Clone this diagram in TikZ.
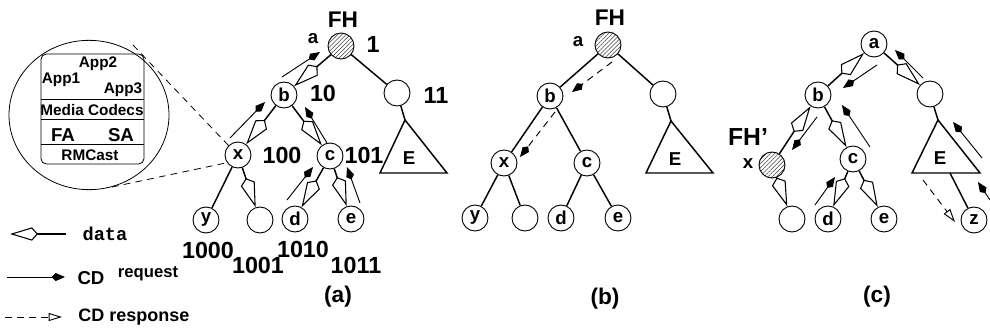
\documentclass[tikz,border=0pt]{standalone}
\usepackage{fontspec}
\setmainfont{Liberation Sans}
\setmonofont{Liberation Mono}
\usetikzlibrary{arrows.meta,patterns.meta}
\newcommand\myfs[1]{\fontsize{#1}{#1}\selectfont\bfseries}
\begin{document}
\begin{tikzpicture}[x=0.75pt,y=-0.75pt,
  tn/.style={circle,draw,line width=0.7pt,minimum size=19.5pt,inner sep=0pt,font=\myfs{14}},
  hat/.style={tn,pattern={Lines[angle=45,distance=2.2pt,line width=0.4pt]},pattern color=darkgray},
  lab/.style={inner sep=0pt,font=\myfs{17.5}},
  slab/.style={inner sep=0pt,font=\myfs{14}},
  mlab/.style={inner sep=0pt,font=\myfs{11.5}},
  captxt/.style={inner sep=0pt,font=\myfs{17}},
  edge/.style={line width=1.1pt},
  data/.style={edge,-{Kite[open,length=23pt,width=11pt,inset=4.5pt,line width=0.8pt]}},
  req/.style={line width=0.7pt,-{Kite[length=10pt,width=6pt,inset=3pt]}},
  resp/.style={line width=0.7pt,dash pattern=on 5pt off 4pt,-{Triangle[open,length=10pt,width=6pt,line width=0.7pt]}},
  respf/.style={line width=0.7pt,dash pattern=on 5pt off 4pt,-{Kite[length=10pt,width=6pt,inset=3pt]}},
  zoomln/.style={line width=0.6pt,dash pattern=on 5pt off 4pt}
]
\useasboundingbox (0,0) rectangle (990,335);

% ---------------- magnifier ----------------
\draw[line width=0.6pt] (89,115) ellipse [x radius=60pt, y radius=56pt];
\draw[line width=0.6pt,rounded corners=4pt] (41,54) rectangle (144,164);
\draw[line width=0.6pt] (41,99) -- (144,99) (41,119) -- (144,119) (41,144) -- (144,144);
\node[mlab] (app2) at (98,64) {App2};
\node[mlab] (app1) at (61,80) {App1};
\node[mlab] (app3) at (123,90) {App3};
\node[mlab] (media) at (92,110) {Media Codecs};
\node[inner sep=0pt,font=\myfs{14}] (fa) at (63,135) {FA};
\node[inner sep=0pt,font=\myfs{14}] (sa) at (121,135) {SA};
\node[mlab] (rmc) at (90,155) {RMCast};

% ---------------- panel (a) ----------------
\node[hat] (a1) at (341,46) {};
\node[inner sep=0pt,font=\myfs{17}] (fh1) at (343,20) {FH};
\node[slab] (la1) at (313,39) {a};
\node[lab] (l1) at (373,44) {1};
\node[tn] (b1) at (284,95) {b};
\node[lab] (l10) at (323,93) {10};
\node[tn] (r1) at (397,93) {};
\node[lab] (l11) at (436,95) {11};
\coordinate (t1a) at (405,120);
\coordinate (t1l) at (380,173);
\coordinate (t1r) at (447,173);
\node[slab] (E1) at (409,158) {E};
\node[tn] (x1) at (238,155) {x};
\node[lab] (l100) at (282,155) {100};
\node[tn] (c1) at (330,156) {c};
\node[lab] (l101) at (364,155) {101};
\node[tn] (y1) at (206,220) {y};
\node[tn] (n1) at (260,220) {};
\node[tn] (d1) at (295,219) {d};
\node[tn] (e1) at (351,219) {e};
\node[lab] (l1000) at (208,250) {1000};
\node[lab] (l1001) at (258,265) {1001};
\node[lab] (l1010) at (303,249) {1010};
\node[lab] (l1011) at (356,265) {1011};
\node[captxt] (capa) at (338,297) {(a)};

\draw[data] (a1) -- (b1);
\draw[edge] (a1) -- (r1);
\draw[edge] (r1) -- (t1a);
\draw[edge] (t1a) -- (t1l) -- (t1r) -- cycle;
\draw[data] (b1) -- (x1);
\draw[data] (b1) -- (c1);
\draw[edge] (x1) -- (y1);
\draw[data] (x1) -- (n1);
\draw[data] (c1) -- (d1);
\draw[data] (c1) -- (e1);

\coordinate (q1s) at (282,77);  \coordinate (q1e) at (320,52);
\coordinate (q2s) at (230,138); \coordinate (q2e) at (265,102);
\coordinate (q3s) at (327,143); \coordinate (q3e) at (305,107);
\coordinate (q4s) at (287,200); \coordinate (q4e) at (313,167);
\coordinate (q5s) at (360,203); \coordinate (q5e) at (347,167);
\draw[req] (q1s) -- (q1e);
\draw[req] (q2s) -- (q2e);
\draw[req] (q3s) -- (q3e);
\draw[req] (q4s) -- (q4e);
\draw[req] (q5s) -- (q5e);

\coordinate (m1) at (133,45);
\coordinate (m2) at (112,187);
\draw[zoomln] (m1) -- (x1.135);
\draw[zoomln] (m2) -- (x1.215);

% ---------------- panel (b) ----------------
\node[hat] (a2) at (608,45) {};
\node[inner sep=0pt,font=\myfs{17}] (fh2) at (610,18) {FH};
\node[slab] (la2) at (578,42) {a};
\node[tn] (b2) at (550,96) {b};
\node[tn] (r2) at (663,94) {};
\coordinate (t2a) at (671,121);
\coordinate (t2l) at (646,173);
\coordinate (t2r) at (713,173);
\node[slab] (E2) at (675,159) {E};
\node[tn] (x2) at (504,163) {x};
\node[tn] (c2) at (587,163) {c};
\node[tn] (y2) at (475,218) {y};
\node[tn] (n2) at (525,218) {};
\node[tn] (d2) at (561,218) {d};
\node[tn] (e2) at (618,218) {e};
\node[captxt] (capb) at (605,299) {(b)};

\draw[edge] (a2) -- (b2);
\draw[edge] (a2) -- (r2);
\draw[edge] (r2) -- (t2a);
\draw[edge] (t2a) -- (t2l) -- (t2r) -- cycle;
\draw[edge] (b2) -- (x2);
\draw[edge] (b2) -- (c2);
\draw[edge] (x2) -- (y2);
\draw[edge] (x2) -- (n2);
\draw[edge] (c2) -- (d2);
\draw[edge] (c2) -- (e2);

\coordinate (s1s) at (612,62);  \coordinate (s1e) at (572,92);
\coordinate (s2s) at (555,112); \coordinate (s2e) at (520,157);
\draw[respf] (s1s) -- (s1e);
\draw[respf] (s2s) -- (s2e);

% ---------------- panel (c) ----------------
\node[tn] (a3) at (874,44) {a};
\node[tn] (b3) at (818,95) {b};
\node[tn] (r3) at (930,94) {};
\coordinate (t3a) at (938,120);
\coordinate (t3l) at (912,173);
\coordinate (t3r) at (980,173);
\coordinate (t3b) at (950,173);
\node[slab] (E3) at (940,158) {E};
\node[hat] (x3) at (772,165) {};
\node[slab] (lx3) at (748,164) {x};
\node[inner sep=0pt,font=\myfs{18.5}] (fh3) at (748,137) {FH'};
\node[tn] (c3) at (853,159) {c};
\node[tn] (n3) at (792,219) {};
\node[tn] (d3) at (828,219) {d};
\node[tn] (e3) at (884,219) {e};
\node[tn] (z3) at (974,220) {z};
\node[captxt] (capc) at (877,297) {(c)};

\draw[data] (b3) -- (a3);
\draw[data] (a3) -- (r3);
\draw[edge] (r3) -- (t3a);
\draw[edge] (t3a) -- (t3l) -- (t3r) -- cycle;
\draw[data] (x3) -- (b3);
\draw[data] (b3) -- (c3);
\draw[data] (x3) -- (n3);
\draw[data] (c3) -- (d3);
\draw[data] (c3) -- (e3);
\draw[edge] (t3b) -- (z3);

\coordinate (w1s) at (923,78);  \coordinate (w1e) at (895,50);
\coordinate (w2s) at (877,65);  \coordinate (w2e) at (843,88);
\coordinate (w3s) at (817,117); \coordinate (w3e) at (792,150);
\coordinate (w4s) at (870,147); \coordinate (w4e) at (842,105);
\coordinate (w5s) at (982,158); \coordinate (w5e) at (953,122);
\coordinate (w6s) at (990,200); \coordinate (w6e) at (978,182);
\coordinate (w7s) at (815,205); \coordinate (w7e) at (835,177);
\draw[req] (w1s) -- (w1e);
\draw[req] (w2s) -- (w2e);
\draw[req] (w3s) -- (w3e);
\draw[req] (w4s) -- (w4e);
\draw[req] (w5s) -- (w5e);
\draw[req] (w6s) -- (w6e);
\draw[req] (w7s) -- (w7e);
\coordinate (v1s) at (923,180); \coordinate (v1e) at (955,222);
\draw[resp] (v1s) -- (v1e);

% ---------------- legend ----------------
\coordinate (g1s) at (66,234); \coordinate (g1e) at (10,234);
\draw[line width=0.8pt,-{Kite[open,length=21pt,width=10pt,inset=4.5pt,line width=0.8pt]}] (g1s) -- (g1e);
\node[inner sep=0pt,font=\ttfamily\bfseries\fontsize{14}{14}\selectfont] (tdata) at (105,234) {data};
\coordinate (g2s) at (7,277); \coordinate (g2e) at (65,277);
\draw[req] (g2s) -- (g2e);
\node[inner sep=0pt,font=\myfs{14}] (tcd) at (91,278) {CD};
\node[inner sep=0pt,font=\myfs{12.5}] (treq) at (148,274) {request};
\coordinate (g3s) at (5,317); \coordinate (g3e) at (62,317);
\draw[resp] (g3s) -- (g3e);
\node[inner sep=0pt,font=\myfs{13.5}] (tresp) at (134,317) {CD response};
\end{tikzpicture}
\end{document}
